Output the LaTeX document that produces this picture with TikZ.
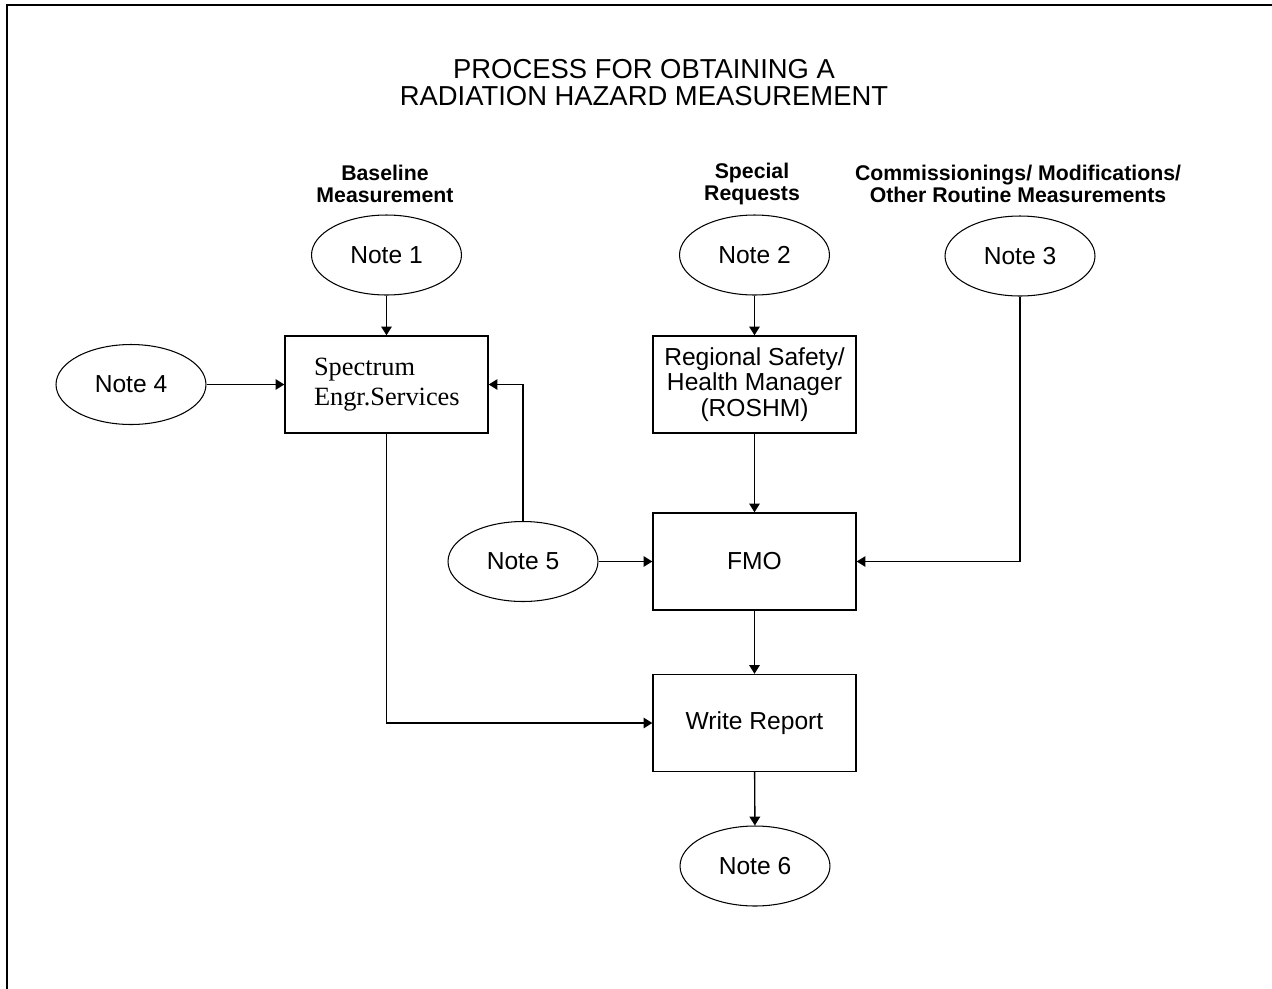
\documentclass[tikz,border=0pt]{standalone}
\usepackage{fontspec}
\setmainfont{Liberation Sans}
\newfontfamily\serifnote{Liberation Serif}
\usetikzlibrary{shapes.geometric, arrows.meta}

\begin{document}
\begin{tikzpicture}[x=0.02cm, y=-0.02cm,
  note/.style={ellipse, draw, line width=0.6pt, minimum width=3cm,
    minimum height=1.6cm, inner sep=0pt, font=\fontsize{14}{16}\selectfont},
  procbox/.style={rectangle, draw, line width=0.8pt, minimum width=4.06cm,
    minimum height=1.94cm, align=center, font=\fontsize{14}{14.5}\selectfont},
  head/.style={align=center, font=\bfseries\fontsize{12.1}{12.6}\selectfont},
  flow/.style={-{Triangle[length=5pt,width=6pt]}, line width=0.8pt}]
  \useasboundingbox (0,0) rectangle (1272,988);
  % --- Frame ---
  \draw[line width=1.4pt] (7,990) -- (7,5) -- (1274,5);
  % --- Title and column heads ---
  \node[align=center, font=\fontsize{15.6}{15.4}\selectfont] (title) at (644,83)
    {PROCESS FOR OBTAINING A\\RADIATION HAZARD MEASUREMENT};
  \node[head] (hbase) at (385,184) {Baseline\\Measurement};
  \node[head] (hspec) at (752,184) {Special\\Requests};
  \node[head] (hcomm) at (1018,184) {Commissionings/ Modifications/\\Other Routine Measurements};
  % --- Notes ---
  \node[note] (n1) at (386.5,255) {Note 1};
  \node[note] (n2) at (754.5,255) {Note 2};
  \node[note] (n3) at (1020,256) {Note 3};
  \node[note] (n4) at (131,384.5) {Note 4};
  \node[note] (n5) at (523,561.5) {Note 5};
  \node[note] (n6) at (755,866) {Note 6};
  % --- Process boxes ---
  \node[procbox, text width=2.9cm, align=left, font=\serifnote\fontsize{15}{17}\selectfont]
    (spec) at (386.5,384.5) {Spectrum\\Engr.Services};
  \node[procbox] (roshm) at (754.5,384.5) {Regional Safety/\\Health Manager\\(ROSHM)};
  \node[procbox] (fmo) at (754.5,561.5) {FMO};
  \node[procbox] (wr) at (754.5,723) {Write Report};
  % --- Connectors ---
  \draw[flow] (n1) -- (spec);
  \draw[flow] (n4) -- (spec);
  \draw[flow] (n5.north) |- (spec.east);
  \draw[flow] (n2) -- (roshm);
  \draw[flow] (roshm) -- (fmo);
  \draw[flow] (n3.south) |- (fmo.east);
  \draw[flow] (n5) -- (fmo);
  \draw[flow] (fmo) -- (wr);
  \draw[flow] (spec.south) |- (wr.west);
  \draw[flow] (wr) -- (n6);
\end{tikzpicture}
\end{document}
